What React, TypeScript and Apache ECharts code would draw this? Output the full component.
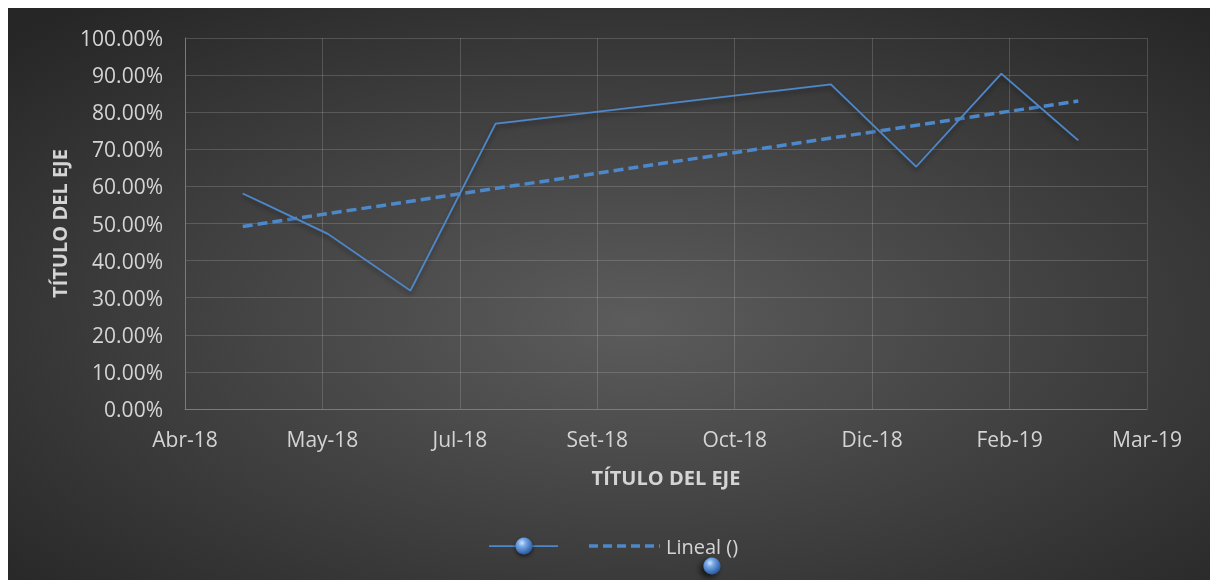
import React, { useEffect, useRef } from "react";
import * as echarts from "echarts";

const dates = ["2018-05-01", "2018-06-01", "2018-07-01", "2018-08-01", "2018-12-01", "2019-01-01", "2019-02-01", "2019-03-01"];
const values = [0.581, 0.472, 0.319, 0.769, 0.875, 0.653, 0.904, 0.724];
const xMinSerial = 43200;
const xMaxSerial = 43550;
const xStepDays = 50;
const monthNames = ["Ene", "Feb", "Mar", "Abr", "May", "Jun", "Jul", "Ago", "Set", "Oct", "Nov", "Dic"];
const axisTitle = "TÍTULO DEL EJE";
const trendName = "Lineal ()";

const EPOCH = Date.UTC(1899, 11, 30);
function toSerial(s: string): number {
  const [y, m, d] = s.split("-").map(Number);
  return (Date.UTC(y, m - 1, d) - EPOCH) / 86400000;
}
function serialLabel(v: number): string {
  const dt = new Date(EPOCH + v * 86400000);
  return monthNames[dt.getUTCMonth()] + "-" + String(dt.getUTCFullYear()).slice(2);
}

export default function App() {
  const ref = useRef<HTMLDivElement>(null);
  useEffect(() => {
    if (!ref.current) return;
    const chart = echarts.init(ref.current, undefined, { renderer: "svg" });
    const xs = dates.map(toSerial);
    const n = xs.length;
    const mx = xs.reduce((a, b) => a + b, 0) / n;
    const my = values.reduce((a, b) => a + b, 0) / n;
    let sxy = 0, sxx = 0;
    for (let i = 0; i < n; i++) {
      sxy += (xs[i] - mx) * (values[i] - my);
      sxx += (xs[i] - mx) * (xs[i] - mx);
    }
    const slope = sxy / sxx;
    const icpt = my - slope * mx;
    const trend = [xs[0], xs[n - 1]].map((x) => [x, icpt + slope * x]);

    const blue = "#4d88ca";
    const txt = "#d4d4d4";
    const font = "Open Sans";
    const sphere = () =>
      new echarts.graphic.RadialGradient(0.38, 0.32, 0.75, [
        { offset: 0, color: "#d2e4fa" },
        { offset: 0.3, color: "#77a8e6" },
        { offset: 0.75, color: "#3b6eb4" },
        { offset: 1, color: "#28508c" },
      ]);

    chart.setOption({
      animation: false,
      backgroundColor: new echarts.graphic.RadialGradient(0.52, 0.55, 0.72, [
        { offset: 0, color: "#5c5c5c" },
        { offset: 1, color: "#262626" },
      ]),
      textStyle: { fontFamily: font },
      grid: { left: 177, top: 30, right: 63, bottom: 171, containLabel: false },
      xAxis: {
        type: "value",
        min: xMinSerial,
        max: xMaxSerial,
        interval: xStepDays,
        name: axisTitle,
        nameLocation: "middle",
        nameGap: 58,
        nameTextStyle: { color: txt, fontSize: 20, fontWeight: "bold", fontFamily: font },
        axisLine: { show: true, lineStyle: { color: "#7a7a7a", width: 1 } },
        axisTick: { show: false },
        axisLabel: { color: txt, fontSize: 21, margin: 19, formatter: (v: number) => serialLabel(v), fontFamily: font },
        splitLine: { show: true, lineStyle: { color: "rgba(217,217,217,0.2)", width: 1 } },
      },
      yAxis: {
        type: "value",
        min: 0,
        max: 1,
        interval: 0.1,
        name: axisTitle,
        nameLocation: "middle",
        nameGap: 116,
        nameRotate: 90,
        nameTextStyle: { color: txt, fontSize: 20, fontWeight: "bold", fontFamily: font },
        axisLine: { show: true, lineStyle: { color: "#7a7a7a", width: 1 } },
        axisTick: { show: false },
        axisLabel: { color: txt, fontSize: 21, margin: 22, formatter: (v: number) => (v * 100).toFixed(2) + "%", fontFamily: font },
        splitLine: { show: true, lineStyle: { color: "rgba(217,217,217,0.2)", width: 1 } },
      },
      series: [
        {
          name: "",
          type: "line",
          data: xs.map((x, i) => [x, values[i]]),
          showSymbol: false,
          symbol: "none",
          lineStyle: { color: blue, width: 1.75, shadowColor: "rgba(0,0,0,0.45)", shadowBlur: 5, shadowOffsetY: 3 },
          z: 3,
        },
        {
          name: trendName,
          type: "line",
          data: trend,
          showSymbol: false,
          symbol: "none",
          lineStyle: { color: blue, width: 3.5, type: [10, 5] },
          z: 2,
        },
      ],
      graphic: [
        { type: "line", shape: { x1: 481, y1: 538, x2: 550, y2: 538 }, style: { stroke: blue, lineWidth: 1.75 } },
        { type: "circle", shape: { cx: 516, cy: 538, r: 8.5 }, style: { fill: sphere(), shadowBlur: 4, shadowColor: "rgba(0,0,0,0.6)", shadowOffsetY: 2 } },
        { type: "line", shape: { x1: 581, y1: 538, x2: 652, y2: 538 }, style: { stroke: blue, lineWidth: 3.5, lineDash: [9, 5] } },
        { type: "text", x: 658, y: 538, style: { text: trendName, fill: txt, fontSize: 20, fontFamily: font, verticalAlign: "middle", align: "left" } },
        { type: "circle", shape: { cx: 704, cy: 558, r: 8.5 }, style: { fill: sphere(), shadowBlur: 6, shadowColor: "rgba(0,0,0,0.7)", shadowOffsetX: -3, shadowOffsetY: 3 } },
      ],
    });
    return () => chart.dispose();
  }, []);
  return <div ref={ref} style={{ position: "fixed", left: 8, top: 8, width: 1202, height: 572 }} />;
}
